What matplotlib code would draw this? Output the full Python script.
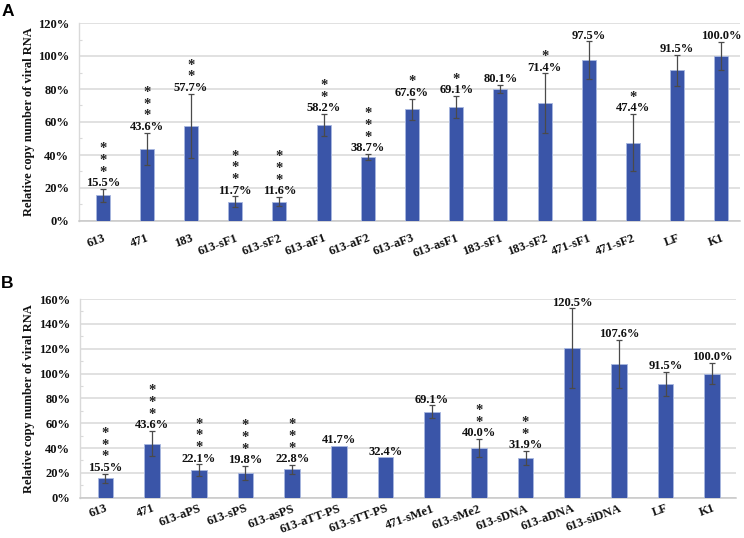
import matplotlib
matplotlib.use('Agg')
import matplotlib.pyplot as plt
from matplotlib.ticker import MultipleLocator, FuncFormatter

# ---------------- Data ----------------
cats_a = ['613', '471', '183', '613-sF1', '613-sF2', '613-aF1', '613-aF2', '613-aF3',
          '613-asF1', '183-sF1', '183-sF2', '471-sF1', '471-sF2', 'LF', 'K1']
vals_a = [15.5, 43.6, 57.7, 11.7, 11.6, 58.2, 38.7, 67.6, 69.1, 80.1, 71.4, 97.5, 47.4, 91.5, 100.0]
errs_a = [3.8, 9.9, 19.5, 3.2, 2.8, 6.5, 1.8, 6.4, 6.7, 2.5, 18.0, 11.3, 17.4, 9.4, 8.5]
stars_a = [3, 3, 2, 3, 3, 2, 3, 1, 1, 0, 1, 0, 1, 0, 0]

cats_b = ['613', '471', '613-aPS', '613-sPS', '613-asPS', '613-aTT-PS', '613-sTT-PS',
          '471-sMe1', '613-sMe2', '613-sDNA', '613-aDNA', '613-siDNA', 'LF', 'K1']
vals_b = [15.5, 43.6, 22.1, 19.8, 22.8, 41.7, 32.4, 69.1, 40.0, 31.9, 120.5, 107.6, 91.5, 100.0]
errs_b = [3.8, 9.9, 4.7, 5.7, 3.4, None, None, 5.2, 7.1, 5.5, 32.0, 19.6, 9.7, 8.7]
stars_b = [3, 3, 3, 3, 3, 0, 0, 0, 2, 2, 0, 0, 0, 0]

# ---------------- Style ----------------
SERIF = ['Liberation Serif', 'DejaVu Serif']
BAR = '#3A55A8'
GRID = '#d9d9d9'
FS = 9

fig = plt.figure(figsize=(7.44, 5.38), dpi=100)


def panel(rect, cats, vals, errs, stars, ymax, width, xlim, xpad):
    ax = fig.add_axes(rect)
    x = list(range(len(cats)))
    ax.bar(x, vals, width=width, color=BAR, edgecolor='#a9b8e0', linewidth=0.6, zorder=3)
    ex = [i for i in x if errs[i]]
    ax.errorbar(ex, [vals[i] for i in ex], yerr=[errs[i] for i in ex], fmt='none',
                ecolor='#4a4a4a', elinewidth=0.9, capsize=2, capthick=0.9, zorder=4)
    for i in x:
        top = vals[i] + (errs[i] or 0)
        ax.annotate(f'{vals[i]:.1f}%', (i, top), xytext=(0, 2), textcoords='offset points',
                    ha='center', va='baseline', fontsize=FS, fontweight='bold',
                    family=SERIF, color='#111111', zorder=5)
        if stars[i]:
            ax.annotate('\n'.join(['*'] * stars[i]), (i, top), xytext=(0, 7.5),
                        textcoords='offset points', ha='center', va='bottom',
                        multialignment='center', linespacing=0.87, fontsize=10.5,
                        fontweight='bold', family=SERIF, color='#222222', zorder=5)
    ax.set_ylim(0, ymax)
    ax.set_xlim(*xlim)
    ax.yaxis.set_major_locator(MultipleLocator(20))
    ax.yaxis.set_minor_locator(MultipleLocator(10))
    ax.yaxis.set_major_formatter(FuncFormatter(lambda v, p: f'{v:.0f}%'))
    ax.grid(axis='y', which='major', color=GRID, linewidth=1.1, zorder=0)
    ax.set_axisbelow(True)
    for s in ['top', 'right']:
        ax.spines[s].set_visible(False)
    ax.spines['left'].set_color(GRID)
    ax.spines['left'].set_linewidth(1.0)
    ax.spines['bottom'].set_color('#c8c8c8')
    ax.spines['bottom'].set_linewidth(1.1)
    ax.tick_params(axis='y', which='major', length=0, pad=7)
    ax.tick_params(axis='y', which='minor', length=2.5, direction='in', color=GRID, width=0.8)
    ax.tick_params(axis='x', length=0, pad=xpad)
    ax.set_xticks(x)
    ax.set_xticklabels(cats, rotation=20, ha='right', rotation_mode='anchor')
    for lab in ax.get_xticklabels() + ax.get_yticklabels():
        lab.set_fontfamily(SERIF)
        lab.set_fontweight('bold')
        lab.set_fontsize(FS)
        lab.set_color('#111111')
    ax.set_ylabel('Relative copy number of viral RNA', fontsize=FS, fontweight='bold',
                  family=SERIF, color='#111111')
    return ax


axA = panel([79 / 744, 1 - 221 / 538, 661 / 744, 198 / 538], cats_a, vals_a, errs_a, stars_a,
            120, 0.317, (-0.536, 14.42), 8)
axB = panel([80 / 744, 1 - 497.7 / 538, 656 / 744, 198.7 / 538], cats_b, vals_b, errs_b, stars_b,
            160, 0.336, (-0.546, 13.51), 3.5)
axA.yaxis.set_label_coords(-0.066, 0.5)
axB.yaxis.set_label_coords(-0.068, 0.5)

fig.text(2 / 744, 1 - 4 / 538, 'A', fontsize=12.5, fontweight='bold',
         family=['Liberation Sans', 'DejaVu Sans'], va='top', ha='left')
fig.text(1 / 744, 1 - 276 / 538, 'B', fontsize=12.5, fontweight='bold',
         family=['Liberation Sans', 'DejaVu Sans'], va='top', ha='left')

fig.savefig('out.png', dpi=100)
